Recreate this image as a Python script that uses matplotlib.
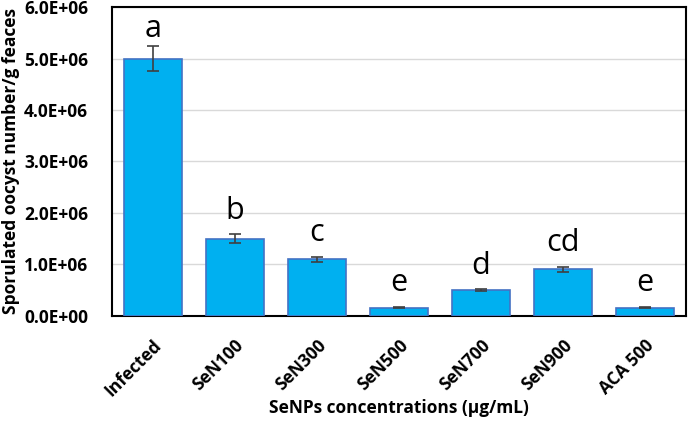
import numpy as np
import matplotlib
matplotlib.use("Agg")
import matplotlib.pyplot as plt

plt.rcParams['font.family'] = ['Open Sans', 'DejaVu Sans']

categories = ['Infected', 'SeN100', 'SeN300', 'SeN500', 'SeN700', 'SeN900', 'ACA 500']
values = [5.0e6, 1.5e6, 1.1e6, 0.16e6, 0.5e6, 0.9e6, 0.16e6]
errors = [0.25e6, 0.08e6, 0.05e6, 0.015e6, 0.02e6, 0.05e6, 0.015e6]
letters = ['a', 'b', 'c', 'e', 'd', 'cd', 'e']
yticks = [0, 1e6, 2e6, 3e6, 4e6, 5e6, 6e6]

fig = plt.figure(figsize=(6.9, 4.21), dpi=100)
ax = fig.add_axes([0.162, 0.25, 0.832, 0.733])

x = np.arange(len(categories))
ax.bar(x, values, width=0.71, color='#00B0F0', edgecolor='#4472C4', linewidth=1.2, zorder=3)
ax.errorbar(x, values, yerr=errors, fmt='none', ecolor='#404040', elinewidth=1.2,
            capsize=4, capthick=1.2, zorder=4)

# significance letters sit a little above each error bar
for xi, v, e, lab in zip(x, values, errors, letters):
    ypos = min(v + e + 0.3e6, 5.42e6)
    ax.text(xi, ypos, lab, ha='center', va='baseline', fontsize=22, color='black')

ax.set_ylim(0, 6e6)
ax.set_xlim(-0.5, len(categories) - 0.5)
ax.set_yticks(yticks)
ax.set_yticklabels([f"{t/1e6:.1f}E+06" if t > 0 else "0.0E+00" for t in yticks],
                   fontsize=12.5, fontweight='bold')
ax.set_xticks(x)
ax.set_xticklabels(categories, rotation=45, ha='right', rotation_mode='anchor',
                   fontsize=12.5, fontweight='bold')
ax.tick_params(axis='y', length=0, pad=17)
ax.tick_params(axis='x', length=0, pad=15)
ax.grid(axis='y', color='#d9d9d9', linewidth=1, zorder=0)
for s in ax.spines.values():
    s.set_linewidth(1.5)
    s.set_color('black')

ax.set_ylabel('Sporulated oocyst number/g feaces', fontsize=12.5, fontweight='bold')
ax.yaxis.set_label_coords(-0.176, 0.5)
ax.set_xlabel('SeNPs concentrations (µg/mL)', fontsize=12.5, fontweight='bold')
ax.xaxis.set_label_coords(0.5, -0.298)
ax.xaxis.label.set_va('center')
ax.yaxis.label.set_va('center')

fig.savefig('out.png', dpi=100)
